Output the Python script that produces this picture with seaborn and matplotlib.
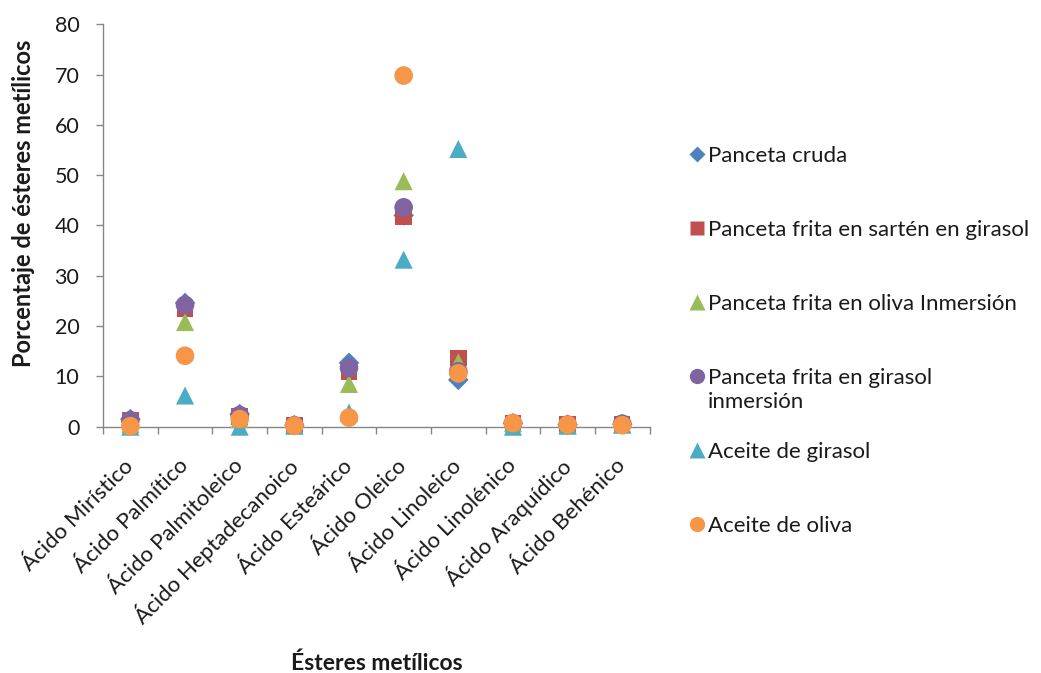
import matplotlib
matplotlib.use("Agg")
import matplotlib.pyplot as plt
import seaborn as sns
import pandas as pd
from matplotlib.lines import Line2D

categories = ["Ácido Mirístico", "Ácido Palmítico", "Ácido Palmitoleico",
              "Ácido Heptadecanoico", "Ácido Esteárico", "Ácido Oleico",
              "Ácido Linoleico", "Ácido Linolénico", "Ácido Araquídico",
              "Ácido Behénico"]

series_names = ["Panceta cruda",
                "Panceta frita en sartén en girasol",
                "Panceta frita en oliva Inmersión",
                "Panceta frita en girasol inmersión",
                "Aceite de girasol",
                "Aceite de oliva"]

panceta_cruda = [1.5, 24.6, 2.5, 0.3, 12.7, 42.0, 9.3, 0.7, 0.4, 0.5]
frita_sarten_girasol = [1.2, 23.4, 2.0, 0.3, 10.9, 41.8, 13.7, 0.7, 0.4, 0.5]
frita_oliva_inmersion = [0.5, 20.8, 1.5, 0.3, 8.5, 48.8, 12.8, 0.7, 0.4, 0.5]
frita_girasol_inmersion = [1.3, 24.2, 2.3, 0.3, 11.7, 43.6, 11.0, 0.7, 0.4, 0.6]
aceite_girasol = [0.0, 6.2, 0.0, 0.2, 2.8, 33.2, 55.2, 0.0, 0.2, 0.4]
aceite_oliva = [0.1, 14.1, 1.5, 0.2, 1.8, 69.8, 10.6, 0.7, 0.4, 0.3]

values = [panceta_cruda, frita_sarten_girasol, frita_oliva_inmersion,
          frita_girasol_inmersion, aceite_girasol, aceite_oliva]
colors = ["#4F81BD", "#C0504D", "#9BBB59", "#8064A2", "#4BACC6", "#F79646"]
markers = ["D", "s", "^", "o", "^", "o"]
sizes = [110, 140, 170, 180, 170, 180]

rows = []
for s, vals in zip(series_names, values):
    for i, v in enumerate(vals):
        rows.append({"serie": s, "pos": i, "valor": v})
df = pd.DataFrame(rows)

sns.set_theme(style="white")
plt.rcParams["font.family"] = ["Lato", "DejaVu Sans"]
TXT = "#1a1a1a"

fig = plt.figure(figsize=(10.41, 6.73), dpi=100)
ax = fig.add_axes([0.099, 0.366, 0.525, 0.598])

for s, c, m, sz in zip(series_names, colors, markers, sizes):
    sub = df[df["serie"] == s]
    sns.scatterplot(data=sub, x="pos", y="valor", color=c, marker=m, s=sz,
                    edgecolor="none", ax=ax, legend=False, zorder=3, clip_on=False)

ax.set_xlim(-0.5, len(categories) - 0.5)
ax.set_ylim(0, 80)
ax.set_yticks(range(0, 81, 10))
ax.set_xticks(range(len(categories)))
ax.set_xticklabels(categories, rotation=45, ha="right", va="center",
                   rotation_mode="anchor", fontsize=16, color=TXT)
ax.set_xticks([i - 0.5 for i in range(len(categories) + 1)], minor=True)
ax.tick_params(axis="x", which="major", length=0, pad=26)
ax.tick_params(axis="x", which="minor", length=5, color="#868686", width=1,
               direction="out", bottom=True)
ax.tick_params(axis="y", length=5, color="#868686", width=1, direction="out",
               left=True, labelsize=15.5, labelcolor=TXT, pad=12)
for sp in ["top", "right"]:
    ax.spines[sp].set_visible(False)
for sp in ["left", "bottom"]:
    ax.spines[sp].set_color("#868686")
    ax.spines[sp].set_linewidth(1)

ax.set_xlabel("Ésteres metílicos", fontsize=16.5, fontweight="bold", color=TXT)
ax.set_ylabel("Porcentaje de ésteres metílicos", fontsize=17, fontweight="bold",
              color=TXT)
ax.xaxis.set_label_coords(0.5, -0.56)
ax.yaxis.set_label_coords(-0.125, 0.555)

handles = [Line2D([0], [0], marker=m, color="none", markerfacecolor=c,
                  markeredgecolor="none", markersize=ms)
           for c, m, ms in zip(colors, markers, [8, 10, 11, 11, 11, 11])]
legend_labels = list(series_names)
legend_labels[3] = "Panceta frita en girasol"
leg = fig.legend(handles, legend_labels, loc="upper left",
                 bbox_to_anchor=(0.652, 0.796), frameon=False, fontsize=16,
                 handletextpad=0.12, handlelength=0.8, labelspacing=2.43,
                 borderaxespad=0)
for t in leg.get_texts():
    t.set_color(TXT)

fig.canvas.draw()
bb = leg.get_texts()[3].get_window_extent()
x0, y0 = fig.transFigure.inverted().transform((bb.x0, bb.y0))
fig.text(x0, y0 - 0.006, "inmersión", fontsize=16, color=TXT,
         ha="left", va="top")

fig.savefig("out.png", dpi=100)
